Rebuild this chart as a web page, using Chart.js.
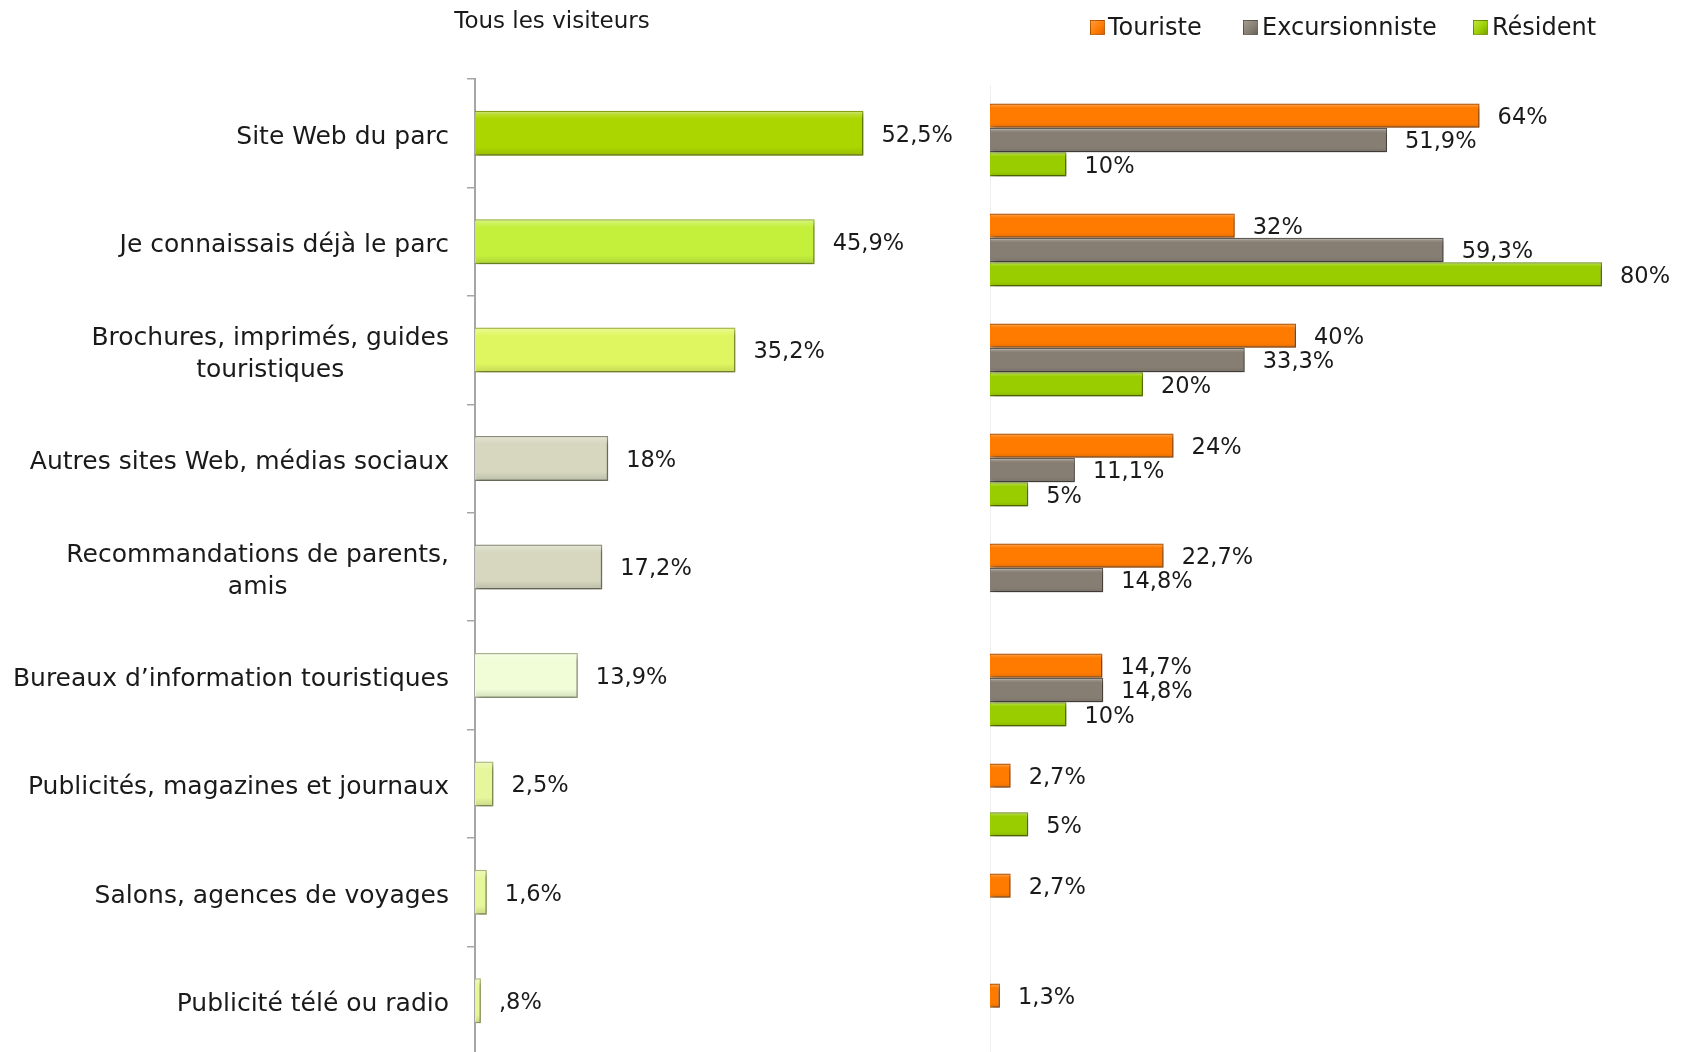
<!DOCTYPE html>
<html lang="fr">
<head>
<meta charset="utf-8">
<title>Sources d'information sur le parc</title>
<script src="https://cdn.jsdelivr.net/npm/chart.js@4.4.1/dist/chart.umd.min.js"></script>
<style>
  html, body { margin: 0; padding: 0; background: #fff; }
  body { width: 1688px; height: 1052px; position: relative; overflow: hidden; font-family: 'DejaVu Sans', sans-serif; color: #1a1a1a; }
  #leftChart { position: absolute; left: 0; top: 0; }
  #rightChart { position: absolute; left: 960px; top: 0; }
  #title { position: absolute; left: 402px; width: 300px; top: 7px; text-align: center; font-size: 23px; }
  .leg { position: absolute; top: 12px; font-size: 24px; line-height: 30px; white-space: nowrap; }
  .leg i { position: absolute; top: 8px; width: 13px; height: 13px; border: 1px solid rgba(0,0,0,0.25); }
</style>
</head>
<body>
<canvas id="leftChart" width="993" height="1090"></canvas>
<canvas id="rightChart" width="728" height="1100"></canvas>
<div id="title">Tous les visiteurs</div>
<div class="leg" style="left:1090px"><i style="left:0;background:linear-gradient(135deg,#ff9a3c,#ff7b00 60%,#d86400)"></i><span style="margin-left:18px">Touriste</span></div>
<div class="leg" style="left:1243px"><i style="left:0;background:linear-gradient(135deg,#a39a90,#877e73 60%,#6b635a)"></i><span style="margin-left:19px">Excursionniste</span></div>
<div class="leg" style="left:1473px"><i style="left:0;background:linear-gradient(135deg,#bde63c,#9acd00 60%,#7aa300)"></i><span style="margin-left:19px">Résident</span></div>

<script>
// catégories (lignes du libellé)
const categories = [
    ['Site Web du parc'],
    ['Je connaissais déjà le parc'],
    ['Brochures, imprimés, guides', 'touristiques'],
    ['Autres sites Web, médias sociaux'],
    ['Recommandations de parents,', 'amis'],
    ['Bureaux d’information touristiques'],
    ['Publicités, magazines et journaux'],
    ['Salons, agences de voyages'],
    ['Publicité télé ou radio']
];

// % tous les visiteurs
const allVisitors = [52.5, 45.9, 35.2, 18, 17.2, 13.9, 2.5, 1.6, 0.8];

// % par type de visiteur
const touriste = [64, 32, 40, 24, 22.7, 14.7, 2.7, 2.7, 1.3];
const excursionniste = [51.9, 59.3, 33.3, 11.1, 14.8, 14.8, null, null, null];
const resident = [10, 80, 20, 5, null, 10, 5, null, null];

const leftFill = ['#acd600', '#c4f03c', '#e0f660', '#d6d7be', '#d6d7be', '#f0fdd6', '#e6f69a', '#e6f69a', '#e6f69a'];
const leftBorder = ['#7d9a00', '#8fb020', '#a6b840', '#8e8f78', '#8e8f78', '#a8b48c', '#a8b870', '#a8b870', '#a8b870'];

const VALUE_FONT = '22.5px "DejaVu Sans"';
const CAT_FONT = '25px "DejaVu Sans"';

function fmtPct(v) {
    let s = String(v).replace('.', ',');
    if (v < 1) s = s.replace(/^0/, '');
    return s + '%';
}

// ombre + biseau + étiquettes de valeur
const barLook = {
    id: 'barLook',
    beforeDatasetsDraw(chart) {
        const ctx = chart.ctx;
        ctx.save();
        ctx.shadowColor = 'rgba(0,0,0,0.35)';
        ctx.shadowBlur = 5;
        ctx.shadowOffsetX = 2;
        ctx.shadowOffsetY = 3;
    },
    afterDatasetsDraw(chart) {
        const ctx = chart.ctx;
        ctx.restore();
        ctx.save();
        chart.data.datasets.forEach((ds, di) => {
            const meta = chart.getDatasetMeta(di);
            meta.data.forEach((bar, i) => {
                const v = ds.data[i];
                if (v === null || v === undefined) return;
                const p = bar.getProps(['x', 'y', 'base', 'height'], true);
                const top = p.y - p.height / 2;
                const g = ctx.createLinearGradient(0, top, 0, top + p.height);
                g.addColorStop(0, 'rgba(255,255,255,0.35)');
                g.addColorStop(0.18, 'rgba(255,255,255,0)');
                g.addColorStop(0.8, 'rgba(0,0,0,0)');
                g.addColorStop(1, 'rgba(0,0,0,0.12)');
                ctx.fillStyle = g;
                ctx.fillRect(p.base + 1, top + 1, Math.max(0, p.x - p.base - 2), p.height - 2);

                ctx.fillStyle = '#1a1a1a';
                ctx.font = VALUE_FONT;
                ctx.textAlign = 'left';
                ctx.textBaseline = 'middle';
                ctx.fillText(fmtPct(v), p.x + 18, p.y + 2.5);
            });
        });
        ctx.restore();
    }
};

// libellés de catégories, lignes centrées entre elles
const catLabels = {
    id: 'catLabels',
    afterDraw(chart) {
        const ctx = chart.ctx;
        const y = chart.scales.y;
        const right = chart.chartArea.left - 26;
        ctx.save();
        ctx.font = CAT_FONT;
        ctx.fillStyle = '#1a1a1a';
        ctx.textAlign = 'center';
        ctx.textBaseline = 'middle';
        categories.forEach((lines, i) => {
            const cy = y.getPixelForValue(i) + 4;
            const w = Math.max(...lines.map(l => ctx.measureText(l).width));
            const cx = right - w / 2;
            lines.forEach((l, j) => {
                ctx.fillText(l, cx, cy + (j - (lines.length - 1) / 2) * 32);
            });
        });
        ctx.restore();
    }
};

new Chart(document.getElementById('leftChart'), {
    type: 'bar',
    data: {
        labels: categories.map(c => c.join(' ')),
        datasets: [{
            label: 'Tous les visiteurs',
            data: allVisitors,
            backgroundColor: leftFill,
            borderColor: leftBorder,
            borderWidth: 1.5,
            barPercentage: 0.415,
            categoryPercentage: 1
        }]
    },
    plugins: [barLook, catLabels],
    options: {
        indexAxis: 'y',
        responsive: false,
        animation: false,
        layout: { padding: { top: 79, bottom: 35, left: 0, right: 0 } },
        plugins: { legend: { display: false }, tooltip: { enabled: false } },
        scales: {
            x: { display: false, min: 0, max: 70 },
            y: {
                grid: { drawOnChartArea: false, drawTicks: true, tickLength: 8, color: '#a6a6a6', lineWidth: 1.5 },
                border: { color: '#a6a6a6', width: 2 },
                ticks: { display: false },
                afterFit(s) { s.width = 475; }
            }
        }
    }
});

new Chart(document.getElementById('rightChart'), {
    type: 'bar',
    data: {
        labels: categories.map(c => c.join(' ')),
        datasets: [
            { label: 'Touriste', data: touriste, backgroundColor: '#ff7b00', borderColor: '#b85500' },
            { label: 'Excursionniste', data: excursionniste, backgroundColor: '#877e73', borderColor: '#5b544c' },
            { label: 'Résident', data: resident, backgroundColor: '#9acd00', borderColor: '#6b8f00' }
        ]
    },
    plugins: [barLook],
    options: {
        indexAxis: 'y',
        responsive: false,
        animation: false,
        datasets: { bar: { borderWidth: 1.5, barPercentage: 1, categoryPercentage: 0.664 } },
        layout: { padding: { top: 85, bottom: 25, left: 0, right: 9.5 } },
        plugins: { legend: { display: false }, tooltip: { enabled: false } },
        scales: {
            x: { display: false, min: 0, max: 90 },
            y: {
                grid: { display: false },
                border: { color: '#f0f0f0', width: 1 },
                ticks: { display: false },
                afterFit(s) { s.width = 30; }
            }
        }
    }
});
</script>
</body>
</html>
